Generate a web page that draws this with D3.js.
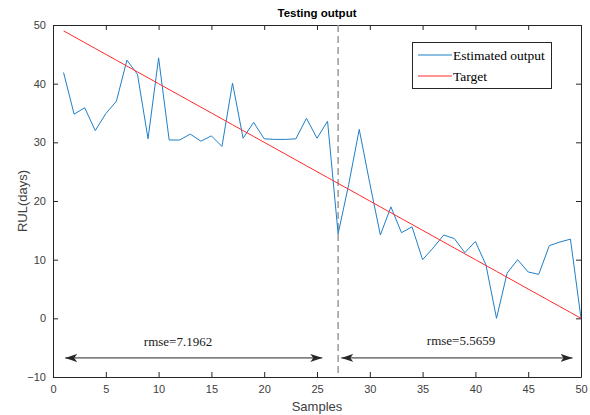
<!DOCTYPE html>
<html><head><meta charset="utf-8">
<script src="https://cdn.jsdelivr.net/npm/d3@7"></script>
<style>body{margin:0;background:#fff}svg{display:block}</style>
</head><body>
<svg id="c" width="590" height="415"></svg>
<script>
const samples = d3.range(1, 51);
const estimated = [41.9,34.8,35.9,32.0,34.9,37.0,44.0,41.6,30.6,44.4,
  30.4,30.4,31.4,30.2,31.1,29.3,40.1,30.7,33.4,30.6,
  30.5,30.5,30.6,34.1,30.7,33.6,14.4,22.8,32.2,23.0,
  14.2,19.0,14.6,15.6,10.0,12.0,14.2,13.6,11.2,13.1,
  9.1,0.0,7.7,10.0,7.9,7.5,12.4,13.0,13.5,0.0];
const target = [49,48,47,46,45,44,43,42,41,40,39,38,37,36,35,34,33,32,31,30,
  29,28,27,26,25,24,23,22,21,20,19,18,17,16,15,14,13,12,11,10,
  9,8,7,6,5,4,3,2,1,0];
const xTicks = [0,5,10,15,20,25,30,35,40,45,50];
const yTicks = [-10,0,10,20,30,40,50];
const splitAt = [27];
const rmseLabels = ["rmse=7.1962","rmse=5.5659"];
const arrowSpans = [[1.15,25.5],[27.3,49.2]];
const legendNames = ["Estimated output","Target"];

const svg = d3.select("#c");
const L=53,R=581,T=25,B=377;
const x = d3.scaleLinear().domain([0,50]).range([L,R]);
const y = d3.scaleLinear().domain([-10,50]).range([B,T]);
const axCol="#262626", tickCol="#404040";

// axes
const gx = svg.append("g").attr("transform",`translate(0,${B})`)
  .call(d3.axisBottom(x).tickValues(xTicks).tickSizeInner(-5).tickSizeOuter(0).tickPadding(8));
const gxt = svg.append("g").attr("transform",`translate(0,${T})`)
  .call(d3.axisTop(x).tickValues(xTicks).tickSizeInner(-5).tickSizeOuter(0).tickFormat(""));
const gy = svg.append("g").attr("transform",`translate(${L},0)`)
  .call(d3.axisLeft(y).tickValues(yTicks).tickSizeInner(-5).tickSizeOuter(0).tickPadding(7));
const gyr = svg.append("g").attr("transform",`translate(${R},0)`)
  .call(d3.axisRight(y).tickValues(yTicks).tickSizeInner(-5).tickSizeOuter(0).tickFormat(""));
[gx,gxt,gy,gyr].forEach(g=>{
  g.selectAll("path").attr("stroke",axCol).attr("stroke-width",1);
  g.selectAll("line").attr("stroke",axCol);
  g.selectAll("text").attr("fill",tickCol).style("font-family","Liberation Sans, Arial, sans-serif").style("font-size","11px");
});

svg.append("clipPath").attr("id","cp").append("rect").attr("x",L).attr("y",T).attr("width",R-L).attr("height",B-T);

// dashed split line
svg.selectAll(".split").data(splitAt).enter().append("line")
  .attr("x1",d=>x(d)).attr("x2",d=>x(d)).attr("y1",T).attr("y2",B)
  .attr("stroke","#9a9a9a").attr("stroke-width",1.5).attr("stroke-dasharray","7,4");

const line = d3.line().x((d,i)=>x(samples[i])).y(d=>y(d));
svg.append("path").datum(estimated).attr("d",line).attr("fill","none")
  .attr("stroke","#1f80c8").attr("stroke-width",1).attr("clip-path","url(#cp)");
svg.append("path").datum(target).attr("d",line).attr("fill","none")
  .attr("stroke","#ff2a2a").attr("stroke-width",1).attr("clip-path","url(#cp)");

// arrows
const defs = svg.append("defs");
["s","e"].forEach(k=>{
  defs.append("marker").attr("id","ar"+k).attr("viewBox","0 0 12 8").attr("refX",k==="e"?12:0).attr("refY",4)
    .attr("markerWidth",12).attr("markerHeight",8).attr("markerUnits","userSpaceOnUse").attr("orient","auto")
    .append("path").attr("d",k==="e"?"M0,0 L12,4 L0,8 L3,4 Z":"M12,0 L0,4 L12,8 L9,4 Z").attr("fill","#262626");
});
const arrowY = -6.75;
svg.selectAll(".arr").data(arrowSpans).enter().append("line")
  .attr("x1",d=>x(d[0])).attr("x2",d=>x(d[1])).attr("y1",y(arrowY)).attr("y2",y(arrowY))
  .attr("stroke","#262626").attr("stroke-width",1)
  .attr("marker-start","url(#ars)").attr("marker-end","url(#are)");
svg.selectAll(".rl").data(rmseLabels).enter().append("text")
  .attr("x",(d,i)=>i===0?178:461).attr("y",(d,i)=>i===0?345.5:344.5)
  .attr("text-anchor","middle").attr("fill","#1a1a1a")
  .style("font-family","Liberation Serif, 'Times New Roman', serif").style("font-size","13px").text(d=>d);

// title and labels
svg.append("text").attr("x",(L+R)/2).attr("y",17).attr("text-anchor","middle")
  .style("font-family","Liberation Sans, Arial, sans-serif").style("font-size","11.5px").style("font-weight","bold")
  .attr("fill","#000").text("Testing output");
svg.append("text").attr("x",(L+R)/2).attr("y",411).attr("text-anchor","middle")
  .style("font-family","Liberation Sans, Arial, sans-serif").style("font-size","13px").attr("fill",tickCol).text("Samples");
svg.append("text").attr("transform",`translate(27,${(T+B)/2}) rotate(-90)`).attr("text-anchor","middle")
  .style("font-family","Liberation Sans, Arial, sans-serif").style("font-size","13px").attr("fill",tickCol).text("RUL(days)");

// legend
const lg = svg.append("g");
lg.append("rect").attr("x",412.5).attr("y",42.5).attr("width",139).attr("height",46)
  .attr("fill","#fff").attr("stroke","#262626").attr("stroke-width",1);
const legCols = ["#1f80c8","#ff2a2a"];
legendNames.forEach((n,i)=>{
  const yy = 55+i*21;
  lg.append("line").attr("x1",418).attr("x2",452).attr("y1",yy).attr("y2",yy).attr("stroke",legCols[i]).attr("stroke-width",1);
  lg.append("text").attr("x",453).attr("y",yy+4.5).style("font-family","Liberation Serif, 'Times New Roman', serif")
    .style("font-size","13.5px").attr("fill","#000").text(n);
});
</script>
</body></html>
